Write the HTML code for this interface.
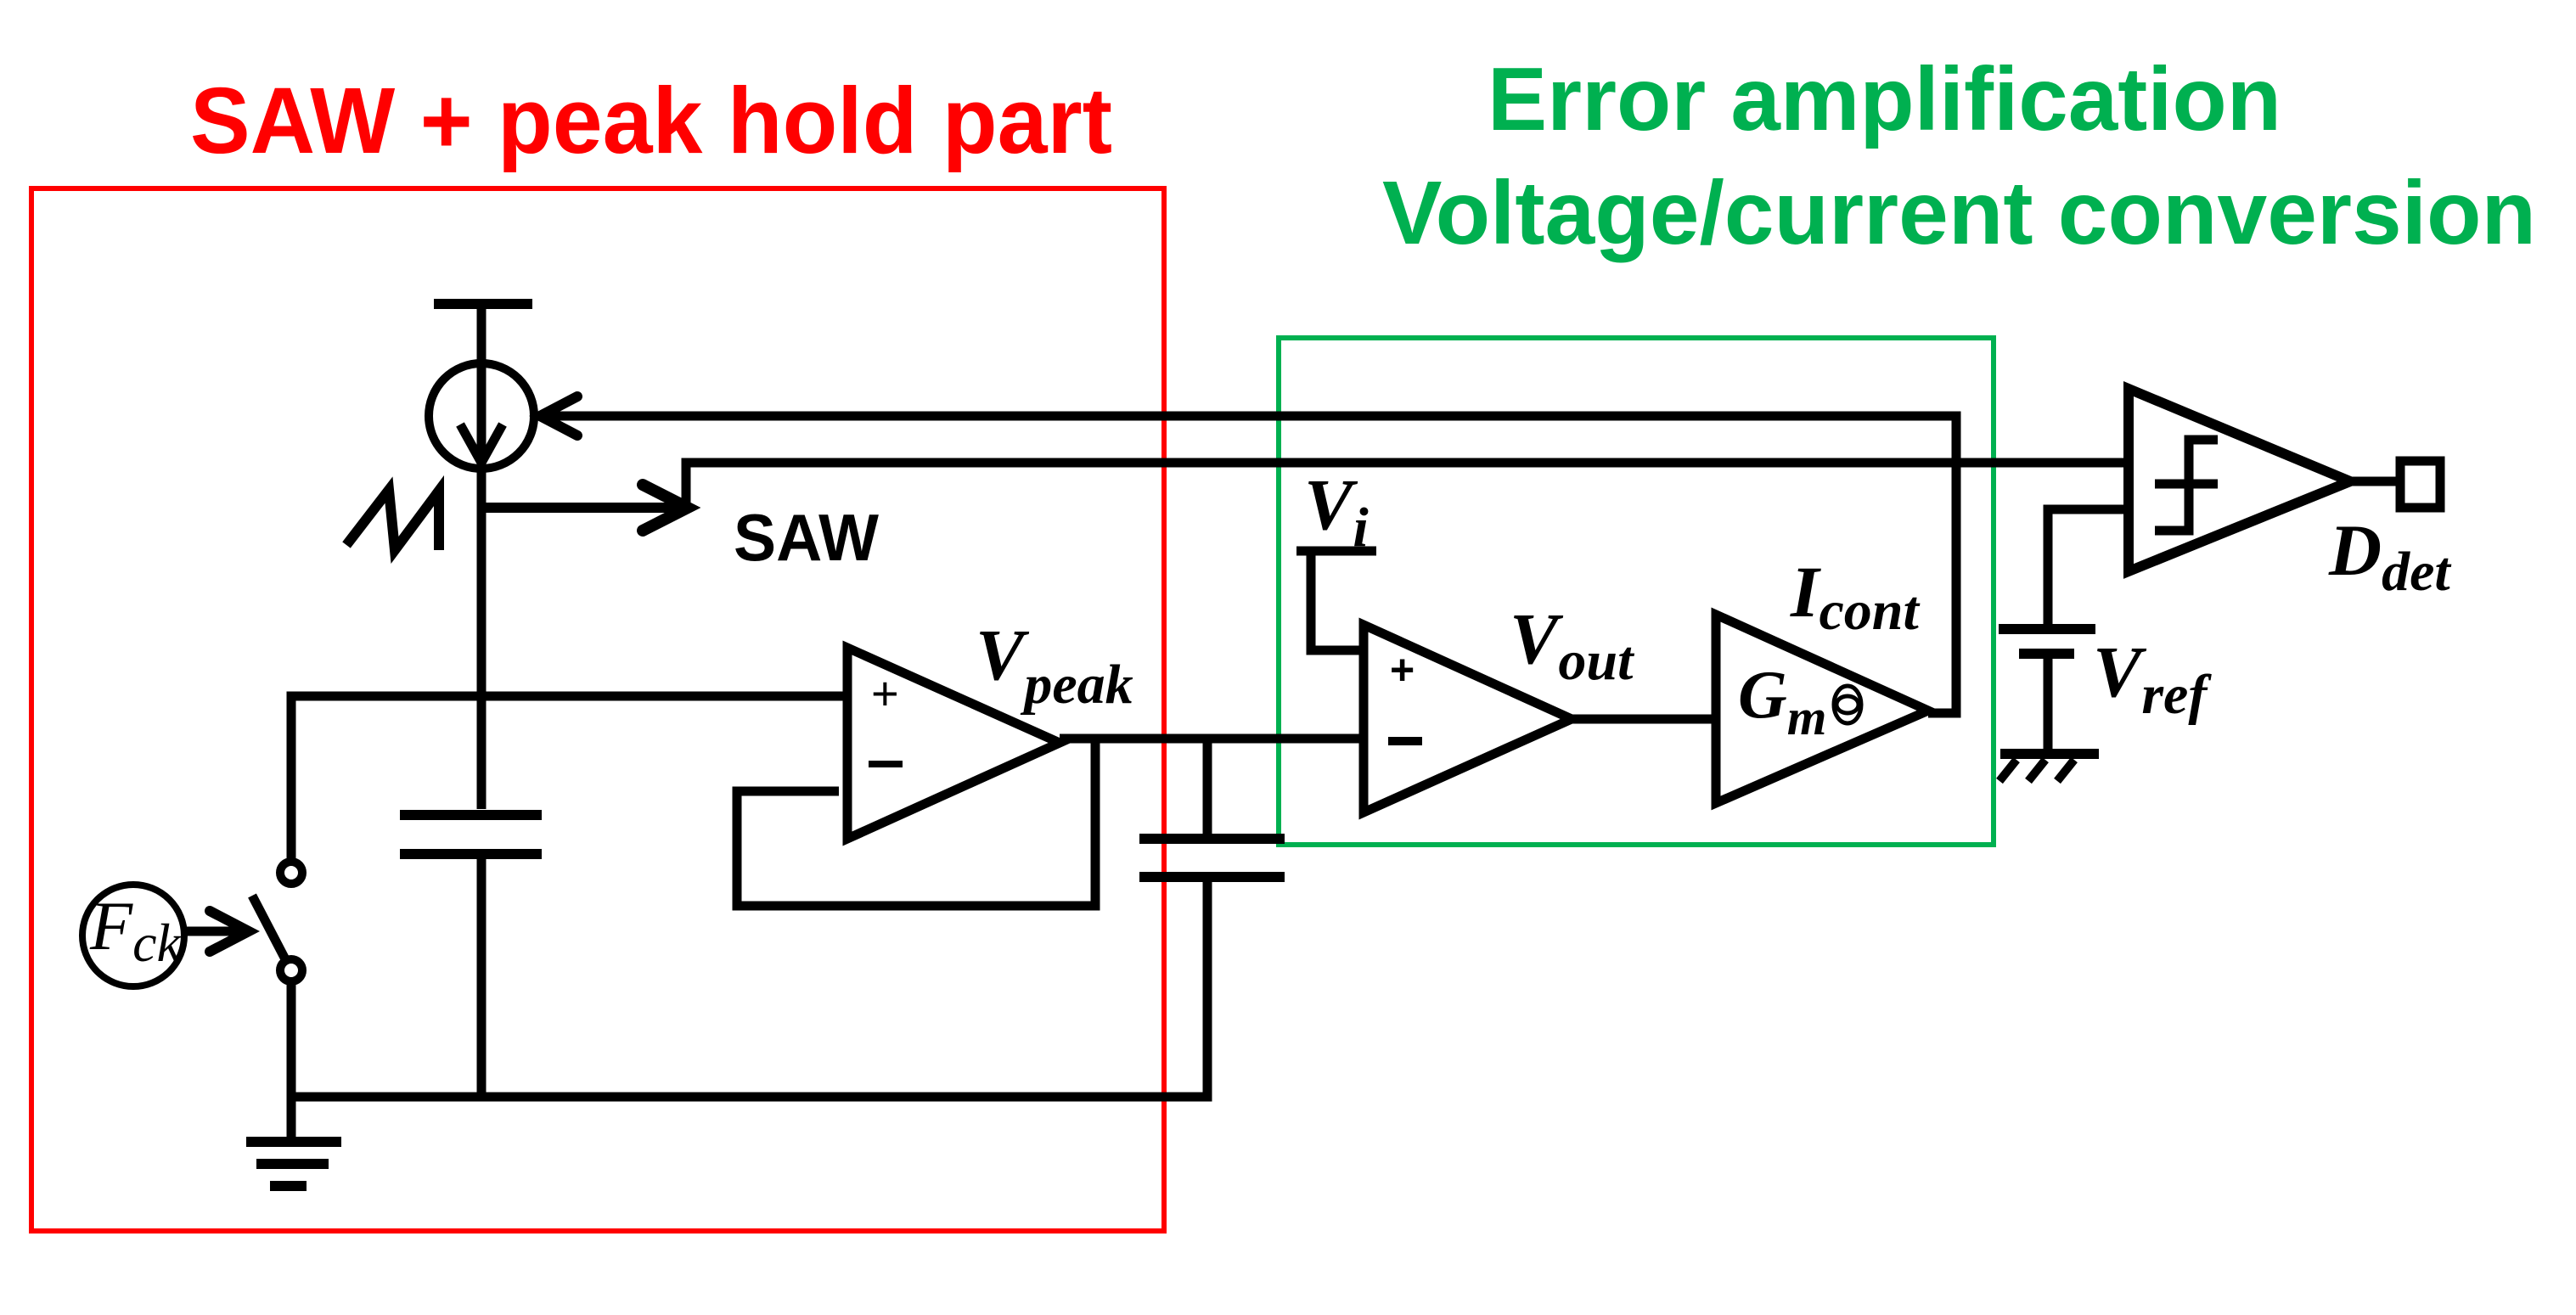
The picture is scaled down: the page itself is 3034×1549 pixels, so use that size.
<!DOCTYPE html>
<html><head><meta charset="utf-8"><style>
html,body{margin:0;padding:0;background:#fff;}
svg{display:block;}
.t{font-family:"Liberation Sans",sans-serif;font-weight:bold;}
.m{font-family:"Liberation Serif",serif;font-weight:bold;font-style:italic;fill:#000;}
</style></head><body>
<svg width="3034" height="1549" viewBox="0 0 3034 1549" xmlns="http://www.w3.org/2000/svg">
<rect width="3034" height="1549" fill="#fff"/>
<text class="t" x="224" y="180" font-size="110" fill="#ff0000" textLength="1086" lengthAdjust="spacingAndGlyphs">SAW + peak hold part</text>
<text class="t" x="1752" y="153" font-size="106" fill="#00b050" textLength="935" lengthAdjust="spacingAndGlyphs">Error amplification</text>
<text class="t" x="1628" y="287" font-size="106" fill="#00b050" textLength="1359" lengthAdjust="spacingAndGlyphs">Voltage/current conversion</text>
<rect x="37" y="222" width="1334" height="1228" fill="none" stroke="#ff0000" stroke-width="6"/>
<rect x="1506" y="398" width="842" height="597" fill="none" stroke="#00b050" stroke-width="6"/>
<g fill="none" stroke="#000" stroke-width="11" stroke-linejoin="miter" stroke-linecap="butt">
<line x1="511" y1="358" x2="627" y2="358" stroke-width="12"/>
<line x1="567" y1="358" x2="567" y2="953"/>
<circle cx="567" cy="490" r="62" stroke-width="10"/>
<polyline points="542,500 567,545 592,500" stroke-width="11"/>
<polyline points="631,490 2304,490 2304,840 2271,840"/>
<polyline points="680,467 636,490 680,513" stroke-width="12" stroke-linecap="round"/>
<polyline points="808,600 808,545 2507,545"/>
<line x1="567" y1="598" x2="806" y2="598" stroke-width="12"/>
<polyline points="757,571 810,598 757,625" stroke-width="14" stroke-linecap="round"/>
<polyline points="408,642 458,577 465,648 517,578 517,648" stroke-width="12"/>
<polyline points="343,1015 343,820 996,820"/>
<line x1="471" y1="960" x2="638" y2="960" stroke-width="12"/>
<line x1="471" y1="1006" x2="638" y2="1006" stroke-width="12"/>
<line x1="567" y1="1006" x2="567" y2="1292"/>
<circle cx="343" cy="1028" r="13" stroke-width="10"/>
<circle cx="343" cy="1143" r="13" stroke-width="10"/>
<line x1="297" y1="1055" x2="335" y2="1128"/>
<line x1="343" y1="1156" x2="343" y2="1345"/>
<line x1="339" y1="1292" x2="1427" y2="1292"/>
<line x1="290" y1="1345" x2="402" y2="1345" stroke-width="12"/>
<line x1="302" y1="1371" x2="387" y2="1371" stroke-width="12"/>
<line x1="318" y1="1397" x2="361" y2="1397" stroke-width="12"/>
<circle cx="157" cy="1102" r="60" stroke-width="8"/>
<line x1="217" y1="1097" x2="290" y2="1097" stroke-width="11"/>
<polyline points="247,1073 293,1097 247,1121" stroke-width="12" stroke-linecap="round"/>
<polygon points="998,763 998,988 1248,875"/>
<polyline points="988,932 868,932 868,1067 1290,1067 1290,870"/>
<line x1="1248" y1="870" x2="1606" y2="870"/>
<line x1="1422" y1="870" x2="1422" y2="988"/>
<line x1="1342" y1="988" x2="1513" y2="988" stroke-width="12"/>
<line x1="1342" y1="1033" x2="1513" y2="1033" stroke-width="12"/>
<polyline points="1422,1033 1422,1292 1418,1292"/>
<line x1="1527" y1="649" x2="1621" y2="649"/>
<polyline points="1544,649 1544,766 1606,766"/>
<polygon points="1606,736 1606,957 1851,847"/>
<line x1="1851" y1="847" x2="2017" y2="847"/>
<polygon points="2021,724 2021,946 2271,837"/>
<ellipse cx="2176" cy="830" rx="16" ry="22" stroke-width="5"/>
<ellipse cx="2176" cy="830" rx="13" ry="10" stroke-width="5"/>
<polyline points="2507,600 2412,600 2412,741"/>
<line x1="2354" y1="741" x2="2468" y2="741" stroke-width="12"/>
<line x1="2378" y1="770" x2="2443" y2="770" stroke-width="12"/>
<line x1="2412" y1="770" x2="2412" y2="888"/>
<line x1="2356" y1="888" x2="2472" y2="888" stroke-width="12"/>
<line x1="2375" y1="895" x2="2355" y2="920" stroke-width="10"/>
<line x1="2409" y1="895" x2="2389" y2="920" stroke-width="10"/>
<line x1="2443" y1="895" x2="2423" y2="920" stroke-width="10"/>
<polygon points="2507,458 2507,673 2768,567" stroke-width="12"/>
<polyline points="2612,518 2578,518 2578,625 2538,625" stroke-width="11"/>
<line x1="2538" y1="570" x2="2612" y2="570" stroke-width="11"/>
<line x1="2768" y1="567" x2="2823" y2="567"/>
<rect x="2827" y="543" width="47" height="55" stroke-width="11"/>
</g>
<text class="t" x="864" y="660" font-size="78" fill="#000" textLength="171" lengthAdjust="spacingAndGlyphs">SAW</text>
<text x="1026" y="836" font-family="Liberation Sans,sans-serif" font-size="56" fill="#000">+</text>
<rect x="1023" y="896" width="40" height="8" fill="#000"/>
<text x="1637" y="806" font-family="Liberation Sans,sans-serif" font-size="50" font-weight="bold" fill="#000">+</text>
<rect x="1635" y="868" width="40" height="10" fill="#000"/>
<text x="106" y="1118" font-family="Liberation Serif,serif" font-style="italic" font-size="82">F<tspan font-size="64" dy="14">ck</tspan></text>
<text class="m" x="1149" y="800" font-size="86">V<tspan font-size="66" dy="28">peak</tspan></text>
<text class="m" x="1536" y="623" font-size="86">V<tspan font-size="66" dy="20">i</tspan></text>
<text class="m" x="1778" y="781" font-size="86">V<tspan font-size="66" dy="19">out</tspan></text>
<text class="m" x="2047" y="845" font-size="80">G<tspan font-size="60" dy="20">m</tspan></text>
<text class="m" x="2109" y="726" font-size="86">I<tspan font-size="66" dy="15">cont</tspan></text>
<text class="m" x="2465" y="820" font-size="86">V<tspan font-size="66" dy="20">ref</tspan></text>
<text class="m" x="2743" y="677" font-size="86">D<tspan font-size="66" dy="18">det</tspan></text>
</svg>
</body></html>
